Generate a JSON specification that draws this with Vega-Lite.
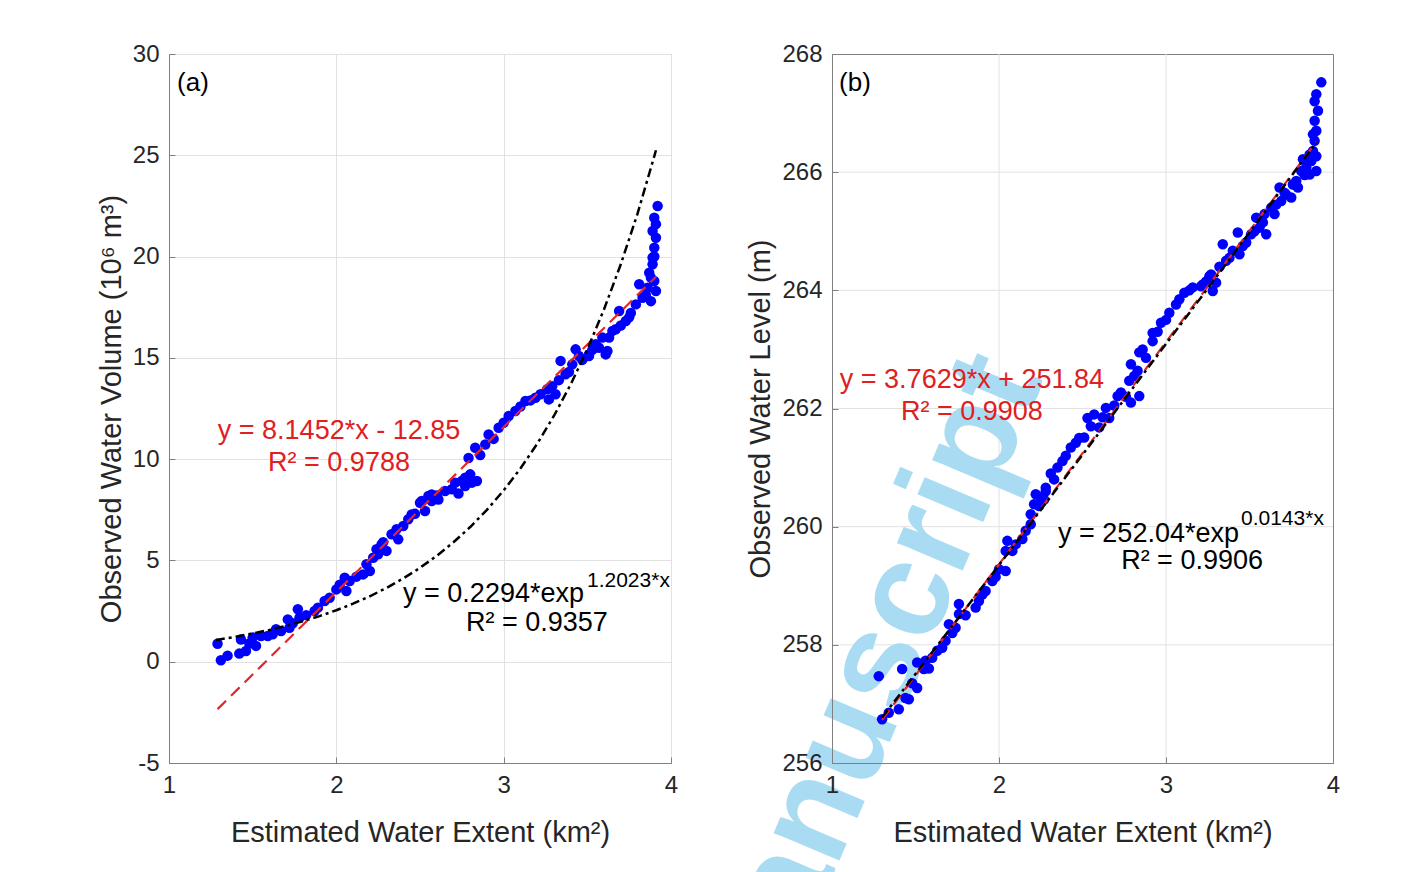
{
  "$schema": "https://vega.github.io/schema/vega-lite/v6.json",
  "background": "white",
  "padding": {"left": 96, "top": 41, "right": 0, "bottom": 0},
  "spacing": 161,
  "bounds": "flush",
  "config": {
    "font": "Liberation Sans",
    "view": {"stroke": "#808080", "strokeWidth": 1},
    "axis": {
      "labelFont": "Liberation Sans", "labelFontSize": 24, "labelColor": "#262626", "labelFlush": false,
      "titleFont": "Liberation Sans", "titleFontSize": 29, "titleFontWeight": "normal", "titleColor": "#262626",
      "gridColor": "#e2e2e2", "gridWidth": 1,
      "domainColor": "#808080", "tickColor": "#808080", "tickSize": -6, "labelPadding": 16
    },
    "axisX": {"titlePadding": 21},
    "axisY": {"titlePadding": 6}
  },
  "datasets": {
    "a_points": [
      {"x":1.29,"y":0.89},{"x":1.31,"y":0.07},{"x":1.43,"y":1.1},{"x":1.42,"y":0.4},{"x":1.46,"y":0.53},{"x":1.5,"y":1.19},{"x":1.52,"y":0.78},{"x":1.55,"y":1.27},{"x":1.59,"y":1.27},{"x":1.62,"y":1.35},{"x":1.67,"y":1.52},{"x":1.71,"y":2.09},{"x":1.72,"y":1.68},{"x":1.77,"y":2.59},{"x":1.78,"y":2.17},{"x":1.87,"y":2.5},{"x":1.89,"y":2.67},{"x":1.93,"y":3.0},{"x":1.96,"y":3.16},{"x":2.0,"y":3.57},{"x":2.05,"y":4.15},{"x":2.06,"y":3.49},{"x":2.08,"y":3.98},{"x":2.16,"y":4.31},{"x":2.18,"y":4.81},{"x":2.2,"y":4.48},{"x":2.22,"y":5.13},{"x":2.24,"y":5.55},{"x":2.25,"y":5.3},{"x":2.27,"y":5.79},{"x":2.3,"y":5.47},{"x":2.33,"y":6.29},{"x":2.36,"y":6.54},{"x":2.37,"y":6.04},{"x":2.43,"y":7.03},{"x":2.45,"y":7.27},{"x":2.5,"y":7.85},{"x":2.53,"y":7.44},{"x":2.57,"y":7.93},{"x":2.55,"y":8.18},{"x":2.61,"y":8.01},{"x":2.65,"y":8.43},{"x":2.69,"y":8.51},{"x":2.71,"y":8.84},{"x":2.75,"y":8.92},{"x":2.77,"y":8.67},{"x":2.8,"y":9.25},{"x":2.84,"y":8.92},{"x":2.81,"y":8.84},{"x":2.51,"y":7.93},{"x":2.57,"y":8.26},{"x":2.77,"y":9.08},{"x":2.79,"y":10.06},{"x":2.83,"y":10.56},{"x":2.89,"y":10.72},{"x":2.91,"y":11.22},{"x":2.97,"y":11.55},{"x":3.03,"y":12.13},{"x":3.07,"y":12.38},{"x":3.13,"y":12.87},{"x":3.19,"y":13.03},{"x":3.26,"y":13.45},{"x":3.27,"y":12.95},{"x":3.31,"y":13.2},{"x":3.34,"y":14.85},{"x":3.37,"y":14.19},{"x":3.41,"y":14.68},{"x":3.45,"y":15.09},{"x":3.51,"y":15.09},{"x":3.55,"y":15.67},{"x":3.59,"y":16.0},{"x":3.62,"y":15.34},{"x":3.65,"y":16.33},{"x":3.43,"y":15.42},{"x":3.51,"y":15.17},{"x":3.57,"y":15.5},{"x":3.61,"y":15.17},{"x":3.63,"y":16.0},{"x":3.67,"y":16.41},{"x":3.69,"y":17.31},{"x":3.73,"y":16.82},{"x":3.76,"y":17.22},{"x":3.79,"y":17.64},{"x":3.81,"y":18.63},{"x":3.83,"y":17.97},{"x":3.86,"y":18.46},{"x":3.88,"y":18.96},{"x":3.9,"y":18.79},{"x":3.89,"y":19.62},{"x":3.9,"y":20.44},{"x":3.89,"y":21.26},{"x":3.9,"y":21.92},{"x":3.92,"y":22.5},{"x":3.91,"y":20.93},{"x":3.89,"y":19.95},{"x":3.91,"y":18.3},
      {"x":1.35,"y":0.3},{"x":1.48,"y":0.9},{"x":1.64,"y":1.6},{"x":1.74,"y":1.9},{"x":1.82,"y":2.3},{"x":2.02,"y":3.8},{"x":2.12,"y":4.2},{"x":2.28,"y":5.9},{"x":2.4,"y":6.7},{"x":2.47,"y":7.3},{"x":2.6,"y":8.2},{"x":2.73,"y":8.3},{"x":2.86,"y":10.2},{"x":2.94,"y":11.0},{"x":3.0,"y":11.8},{"x":3.1,"y":12.6},{"x":3.16,"y":12.9},{"x":3.22,"y":13.2},{"x":3.29,"y":13.6},{"x":3.33,"y":13.9},{"x":3.39,"y":14.3},{"x":3.47,"y":14.9},{"x":3.53,"y":15.4},{"x":3.7,"y":16.6},{"x":3.75,"y":17.0},{"x":3.85,"y":18.1},{"x":3.87,"y":19.2},{"x":3.9,"y":20.0},{"x":3.91,"y":21.6},{"x":3.88,"y":17.8}
    ],
    "a_lin": [{"x":1.29,"y":-2.34},{"x":3.91,"y":19.0}],
    "a_exp": [
      {"x":1.28,"y":1.07},{"x":1.3,"y":1.095},{"x":1.4,"y":1.235},{"x":1.5,"y":1.393},{"x":1.6,"y":1.57},{"x":1.7,"y":1.771},{"x":1.8,"y":1.997},{"x":1.9,"y":2.253},{"x":2.0,"y":2.541},{"x":2.1,"y":2.865},{"x":2.2,"y":3.231},{"x":2.3,"y":3.644},{"x":2.4,"y":4.11},{"x":2.5,"y":4.635},{"x":2.6,"y":5.227},{"x":2.7,"y":5.895},{"x":2.8,"y":6.649},{"x":2.9,"y":7.498},{"x":3.0,"y":8.456},{"x":3.1,"y":9.536},{"x":3.2,"y":10.754},{"x":3.3,"y":12.13},{"x":3.4,"y":13.68},{"x":3.5,"y":15.42},{"x":3.6,"y":17.4},{"x":3.7,"y":19.62},{"x":3.8,"y":22.12},{"x":3.9,"y":24.95},{"x":3.91,"y":25.25}
    ],
    "a_text": [
      {"x":1.048,"y":28.57,"part":"panel","label":"(a)"},
      {"x":2.016,"y":11.39,"part":"lineq","label":"y = 8.1452*x - 12.85"},
      {"x":2.016,"y":9.81,"part":"linr2","label":"R² = 0.9788"},
      {"x":3.48,"y":3.34,"part":"expeq","label":"y = 0.2294*exp"},
      {"x":3.498,"y":3.98,"part":"expsup","label":"1.2023*x"},
      {"x":3.199,"y":1.91,"part":"expr2","label":"R² = 0.9357"}
    ],
    "b_points": [
      {"x":1.28,"y":257.47},{"x":1.3,"y":256.74},{"x":1.4,"y":256.91},{"x":1.42,"y":257.59},{"x":1.44,"y":257.1},{"x":1.46,"y":257.08},{"x":1.51,"y":257.27},{"x":1.51,"y":257.7},{"x":1.55,"y":257.59},{"x":1.56,"y":257.73},{"x":1.6,"y":257.78},{"x":1.66,"y":257.95},{"x":1.68,"y":258.07},{"x":1.7,"y":258.35},{"x":1.74,"y":258.29},{"x":1.76,"y":258.52},{"x":1.76,"y":258.69},{"x":1.86,"y":258.63},{"x":1.88,"y":258.74},{"x":1.92,"y":258.91},{"x":1.96,"y":259.08},{"x":2.0,"y":259.28},{"x":2.04,"y":259.25},{"x":2.04,"y":259.59},{"x":2.05,"y":259.76},{"x":2.08,"y":259.59},{"x":2.14,"y":259.79},{"x":2.16,"y":259.93},{"x":2.19,"y":260.04},{"x":2.19,"y":260.21},{"x":2.21,"y":260.38},{"x":2.24,"y":260.35},{"x":2.22,"y":260.55},{"x":2.27,"y":260.46},{"x":2.28,"y":260.66},{"x":2.28,"y":260.6},{"x":2.33,"y":260.8},{"x":2.35,"y":261.0},{"x":2.38,"y":261.11},{"x":2.43,"y":261.34},{"x":2.46,"y":261.42},{"x":2.51,"y":261.51},{"x":2.53,"y":261.84},{"x":2.57,"y":261.9},{"x":2.6,"y":261.68},{"x":2.64,"y":262.01},{"x":2.66,"y":261.84},{"x":2.71,"y":262.21},{"x":2.73,"y":262.27},{"x":2.79,"y":262.1},{"x":2.84,"y":262.21},{"x":2.78,"y":262.47},{"x":2.79,"y":262.75},{"x":2.83,"y":262.64},{"x":2.84,"y":262.95},{"x":2.88,"y":262.86},{"x":2.92,"y":263.14},{"x":2.92,"y":263.28},{"x":2.97,"y":263.45},{"x":3.02,"y":263.62},{"x":3.06,"y":263.76},{"x":3.11,"y":263.96},{"x":3.16,"y":264.05},{"x":3.21,"y":264.07},{"x":3.26,"y":264.24},{"x":3.3,"y":264.13},{"x":3.28,"y":263.99},{"x":3.22,"y":264.1},{"x":3.27,"y":264.27},{"x":3.34,"y":264.78},{"x":3.36,"y":264.5},{"x":3.4,"y":264.67},{"x":3.43,"y":264.98},{"x":3.44,"y":264.61},{"x":3.48,"y":264.81},{"x":3.51,"y":264.95},{"x":3.54,"y":265.23},{"x":3.56,"y":265.06},{"x":3.6,"y":264.95},{"x":3.59,"y":265.29},{"x":3.63,"y":265.4},{"x":3.65,"y":265.29},{"x":3.68,"y":265.74},{"x":3.69,"y":265.51},{"x":3.72,"y":265.62},{"x":3.75,"y":265.57},{"x":3.76,"y":265.79},{"x":3.79,"y":265.74},{"x":3.81,"y":266.02},{"x":3.82,"y":266.22},{"x":3.84,"y":266.08},{"x":3.86,"y":265.96},{"x":3.87,"y":266.19},{"x":3.88,"y":266.36},{"x":3.9,"y":266.27},{"x":3.89,"y":266.53},{"x":3.9,"y":266.7},{"x":3.89,"y":266.87},{"x":3.91,"y":267.04},{"x":3.89,"y":267.2},{"x":3.9,"y":267.32},{"x":3.93,"y":267.52},{"x":3.9,"y":266.02},{"x":3.88,"y":266.64},
      {"x":1.34,"y":256.85},{"x":1.48,"y":257.35},{"x":1.58,"y":257.6},{"x":1.63,"y":257.9},{"x":1.72,"y":258.2},{"x":1.8,"y":258.5},{"x":1.9,"y":258.85},{"x":1.98,"y":259.15},{"x":2.1,"y":259.7},{"x":2.25,"y":260.5},{"x":2.31,"y":260.9},{"x":2.4,"y":261.2},{"x":2.48,"y":261.5},{"x":2.55,"y":261.7},{"x":2.62,"y":261.85},{"x":2.69,"y":262.05},{"x":2.76,"y":262.2},{"x":2.81,"y":262.55},{"x":2.86,"y":263.0},{"x":2.95,"y":263.3},{"x":3.0,"y":263.5},{"x":3.08,"y":263.85},{"x":3.14,"y":264.0},{"x":3.24,"y":264.15},{"x":3.32,"y":264.4},{"x":3.38,"y":264.55},{"x":3.46,"y":264.75},{"x":3.53,"y":265.0},{"x":3.58,"y":265.15},{"x":3.66,"y":265.45},{"x":3.71,"y":265.65},{"x":3.78,"y":265.85},{"x":3.83,"y":265.95},{"x":3.86,"y":266.3}
    ],
    "b_lin": [{"x":1.3,"y":256.73},{"x":3.9,"y":266.51}],
    "b_exp": [{"x":1.3,"y":256.77},{"x":2.0,"y":259.35},{"x":2.6,"y":261.59},{"x":3.3,"y":264.22},{"x":3.9,"y":266.5}],
    "b_gridx": [{"x":2},{"x":3}],
    "b_gridy": [{"y":258},{"y":260},{"y":262},{"y":264},{"y":266}],
    "b_text": [
      {"x":1.042,"y":267.51,"part":"panel","label":"(b)"},
      {"x":1.838,"y":262.48,"part":"lineq","label":"y = 3.7629*x + 251.84"},
      {"x":1.838,"y":261.94,"part":"linr2","label":"R² = 0.9908"},
      {"x":3.437,"y":259.88,"part":"expeq","label":"y = 252.04*exp"},
      {"x":3.449,"y":260.13,"part":"expsup","label":"0.0143*x"},
      {"x":3.156,"y":259.42,"part":"expr2","label":"R² = 0.9906"}
    ],
    "b_mark": [{"x":2.269,"y":262.5,"label":"anuscript"}]
  },
  "hconcat": [
    {
      "width": 502, "height": 709,
      "encoding": {
        "x": {"field": "x", "type": "quantitative", "scale": {"domain": [1, 4], "nice": false, "zero": false}, "axis": {"values": [1, 2, 3, 4], "labelExpr": "'' + datum.value", "title": "Estimated Water Extent (km²)"}},
        "y": {"field": "y", "type": "quantitative", "scale": {"domain": [-5, 30], "nice": false, "zero": false}, "axis": {"values": [-5, 0, 5, 10, 15, 20, 25, 30], "labelExpr": "'' + datum.value", "title": "Observed Water Volume (10⁶ m³)"}}
      },
      "layer": [
        {
          "data": {"name": "a_points"},
          "mark": {"type": "circle", "color": "#0000ff", "opacity": 1, "size": 110}
        },
        {
          "data": {"name": "a_lin"},
          "mark": {"type": "line", "color": "#e3262b", "strokeWidth": 2.2, "strokeDash": [12, 7]}
        },
        {
          "data": {"name": "a_exp"},
          "mark": {"type": "line", "color": "#000000", "strokeWidth": 2.5, "strokeDash": [9, 4, 3, 4]}
        },
        {
          "data": {"name": "a_text"},
          "transform": [{"filter": "datum.part === 'panel'"}],
          "mark": {"type": "text", "align": "left", "baseline": "middle", "fontSize": 26, "color": "#000000", "font": "Liberation Sans"},
          "encoding": {"text": {"field": "label"}}
        },
        {
          "data": {"name": "a_text"},
          "transform": [{"filter": "datum.part === 'lineq' || datum.part === 'linr2'"}],
          "mark": {"type": "text", "align": "center", "baseline": "middle", "fontSize": 27, "color": "#e0201f", "font": "Liberation Sans"},
          "encoding": {"text": {"field": "label"}}
        },
        {
          "data": {"name": "a_text"},
          "transform": [{"filter": "datum.part === 'expeq'"}],
          "mark": {"type": "text", "align": "right", "baseline": "middle", "fontSize": 27, "color": "#000000", "font": "Liberation Sans"},
          "encoding": {"text": {"field": "label"}}
        },
        {
          "data": {"name": "a_text"},
          "transform": [{"filter": "datum.part === 'expsup'"}],
          "mark": {"type": "text", "align": "left", "baseline": "middle", "fontSize": 21, "color": "#000000", "font": "Liberation Sans"},
          "encoding": {"text": {"field": "label"}}
        },
        {
          "data": {"name": "a_text"},
          "transform": [{"filter": "datum.part === 'expr2'"}],
          "mark": {"type": "text", "align": "center", "baseline": "middle", "fontSize": 27, "color": "#000000", "font": "Liberation Sans"},
          "encoding": {"text": {"field": "label"}}
        }
      ]
    },
    {
      "width": 501, "height": 709,
      "layer": [
        {
          "data": {"name": "b_gridx"},
          "mark": {"type": "rule", "color": "#e2e2e2", "strokeWidth": 1},
          "encoding": {"x": {"field": "x", "type": "quantitative"}}
        },
        {
          "data": {"name": "b_gridy"},
          "mark": {"type": "rule", "color": "#e2e2e2", "strokeWidth": 1},
          "encoding": {"y": {"field": "y", "type": "quantitative"}}
        },
        {
          "data": {"name": "b_mark"},
          "mark": {"type": "text", "align": "right", "baseline": "alphabetic", "angle": -67, "fontSize": 135, "fontWeight": "bold", "color": "#a9dcf3", "font": "Liberation Sans"},
          "encoding": {"x": {"field": "x", "type": "quantitative"}, "y": {"field": "y", "type": "quantitative"}, "text": {"field": "label"}}
        },
        {
          "data": {"name": "b_points"},
          "mark": {"type": "circle", "color": "#0000ff", "opacity": 1, "size": 110},
          "encoding": {
            "x": {"field": "x", "type": "quantitative", "scale": {"domain": [1, 4], "nice": false, "zero": false}, "axis": {"values": [1, 2, 3, 4], "labelExpr": "'' + datum.value", "title": "Estimated Water Extent (km²)", "grid": false, "zindex": 1}},
            "y": {"field": "y", "type": "quantitative", "scale": {"domain": [256, 268], "nice": false, "zero": false}, "axis": {"values": [256, 258, 260, 262, 264, 266, 268], "labelExpr": "'' + datum.value", "title": "Observed Water Level (m)", "grid": false, "zindex": 1}}
          }
        },
        {
          "data": {"name": "b_lin"},
          "mark": {"type": "line", "color": "#e3262b", "strokeWidth": 2.2, "strokeDash": [12, 7]},
          "encoding": {"x": {"field": "x", "type": "quantitative"}, "y": {"field": "y", "type": "quantitative"}}
        },
        {
          "data": {"name": "b_exp"},
          "mark": {"type": "line", "color": "#000000", "strokeWidth": 2.5, "strokeDash": [9, 4, 3, 4]},
          "encoding": {"x": {"field": "x", "type": "quantitative"}, "y": {"field": "y", "type": "quantitative"}}
        },
        {
          "data": {"name": "b_text"},
          "transform": [{"filter": "datum.part === 'panel'"}],
          "mark": {"type": "text", "align": "left", "baseline": "middle", "fontSize": 26, "color": "#000000", "font": "Liberation Sans"},
          "encoding": {"x": {"field": "x", "type": "quantitative"}, "y": {"field": "y", "type": "quantitative"}, "text": {"field": "label"}}
        },
        {
          "data": {"name": "b_text"},
          "transform": [{"filter": "datum.part === 'lineq' || datum.part === 'linr2'"}],
          "mark": {"type": "text", "align": "center", "baseline": "middle", "fontSize": 27, "color": "#e0201f", "font": "Liberation Sans"},
          "encoding": {"x": {"field": "x", "type": "quantitative"}, "y": {"field": "y", "type": "quantitative"}, "text": {"field": "label"}}
        },
        {
          "data": {"name": "b_text"},
          "transform": [{"filter": "datum.part === 'expeq'"}],
          "mark": {"type": "text", "align": "right", "baseline": "middle", "fontSize": 27, "color": "#000000", "font": "Liberation Sans"},
          "encoding": {"x": {"field": "x", "type": "quantitative"}, "y": {"field": "y", "type": "quantitative"}, "text": {"field": "label"}}
        },
        {
          "data": {"name": "b_text"},
          "transform": [{"filter": "datum.part === 'expsup'"}],
          "mark": {"type": "text", "align": "left", "baseline": "middle", "fontSize": 21, "color": "#000000", "font": "Liberation Sans"},
          "encoding": {"x": {"field": "x", "type": "quantitative"}, "y": {"field": "y", "type": "quantitative"}, "text": {"field": "label"}}
        },
        {
          "data": {"name": "b_text"},
          "transform": [{"filter": "datum.part === 'expr2'"}],
          "mark": {"type": "text", "align": "center", "baseline": "middle", "fontSize": 27, "color": "#000000", "font": "Liberation Sans"},
          "encoding": {"x": {"field": "x", "type": "quantitative"}, "y": {"field": "y", "type": "quantitative"}, "text": {"field": "label"}}
        }
      ]
    }
  ]
}
